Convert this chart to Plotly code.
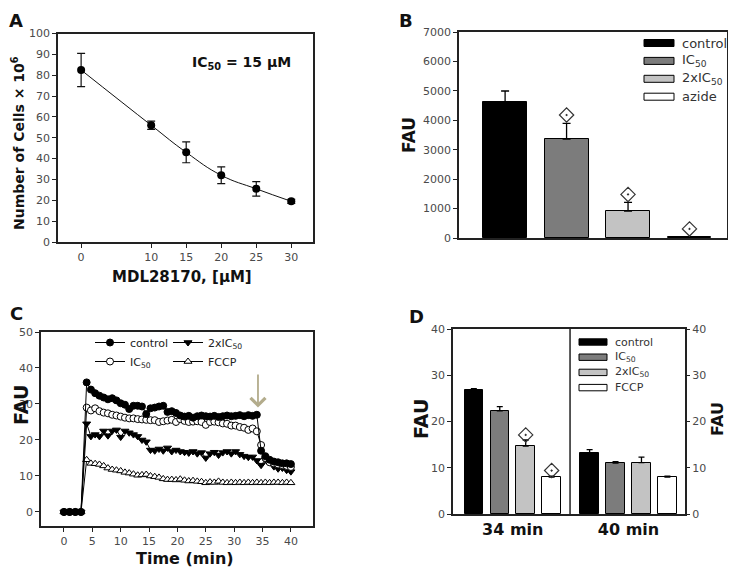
import plotly.graph_objects as go

W, H = 736, 576
OFF = 8  # page body margin
FW, FH = W - 2 * OFF, H - 2 * OFF
FONT = "DejaVu Sans"
TICKC = "#4a4a4a"
LINEC = "#222222"

# ---------------- Panel A data ----------------
conc = [0, 10, 15, 20, 25, 30]
cells = [82.5, 56, 43, 32, 25.5, 19.5]
cells_err = [8, 2, 5, 4, 3.5, 1]

# ---------------- Panel B data ----------------
b_names = ["control", "IC<sub>50</sub>", "2xIC<sub>50</sub>", "azide"]
b_values = [4630, 3360, 915, 40]
b_err = [365, 535, 295, 0]
b_sig = [None, 4180, 1480, 310]

# ---------------- Panel C data ----------------
time_min = [0, 1, 2, 3,
            4, 4.75, 5.5, 6.25, 7, 7.75, 8.5, 9.25, 10, 10.75, 11.5, 12.25, 13, 13.75,
            14.5, 15.25, 16, 16.75, 17.5, 18.25, 19, 19.75, 20.5, 21.25, 22, 22.75,
            23.5, 24.25, 25, 25.75, 26.5, 27.25, 28, 28.75, 29.5, 30.25, 31, 31.75,
            32.5, 33.25, 34, 34.75, 35.5, 36.25, 37, 37.75, 38.5, 39.25, 40]
c_control = [0, 0, 0, 0,
             36, 34, 33, 32.3, 31.8, 31.3, 31.6, 31, 30.2, 29.8, 28.6, 29.5, 29.5, 29.3,
             27.2, 28.8, 29, 29.3, 29.5, 27.8, 28, 27.5, 26.8, 26.5, 26.7, 26.2,
             26.6, 26.8, 26.6, 26.5, 26.7, 26.4, 26.6, 26.8, 26.6, 26.7, 26.9, 26.6,
             26.9, 26.7, 27, 17, 15.5, 14.5, 14, 13.8, 13.5, 13.5, 13.3]
c_ic50 = [0, 0, 0, 0,
          29, 28.2, 28.8, 28, 27.6, 27.4, 27, 26.8, 26.5, 26.2, 26, 26, 25.8, 25.7,
          25.6, 25.5, 25.5, 25, 25.2, 25.4, 25.6, 25, 25.8, 25.3, 25, 25.1,
          25.2, 25, 24.2, 25, 25.1, 24.9, 24.6, 24.5, 24, 24, 23.6, 23.4,
          22.8, 23.2, 22.4, 18.6, 15, 13.8, 13.5, 13.2, 13, 12.8, 12.5]
c_2xic50 = [0, 0, 0, 0,
            24.5, 21, 21.5, 21, 22.5, 21.2, 22.5, 22.8, 20.8, 22.5, 22, 21.5, 21, 20,
            19.5, 17.2, 17, 17.5, 17, 17.8, 16.8, 17.2, 16.8, 16.6, 16.4, 16.8,
            16.2, 16.5, 15, 16.2, 16.6, 15.8, 16.5, 16.8, 16.2, 16.8, 16, 15.5,
            15.2, 15.3, 14.3, 13, 14.5, 13.8, 12.6, 12, 12.2, 11.6, 11.2]
c_fccp = [0, 0, 0, 0,
          14.5, 13.5, 13.4, 13.2, 12.8, 12.2, 11.8, 11.6, 11.4, 11, 10.8, 10.5, 10.2, 10.3,
          10.4, 10, 9.8, 9.6, 9.2, 9, 9, 8.9, 9.1, 8.8, 8.6, 8.7,
          8.5, 8.4, 8.1, 8.3, 8.2, 8.5, 8.2, 8.1, 8.2, 8.1, 8.2, 8.1,
          8.2, 8.1, 8.2, 8.1, 8.2, 8.1, 8.2, 8.2, 8.1, 8.2, 8.1]
arrow_time = 34.2

# ---------------- Panel D data ----------------
d_groups = ["34 min", "40 min"]
d_names = ["control", "IC<sub>50</sub>", "2xIC<sub>50</sub>", "FCCP"]
d_values = [[26.8, 13.1], [22.3, 11.0], [14.7, 11.1], [8.0, 8.0]]
d_err = [[0.3, 0.8], [0.9, 0.3], [1.3, 1.2], [0.2, 0.2]]
d_sig = [[None, None], [None, None], [17.1, None], [9.4, None]]

bar_colors = ["#000000", "#7c7c7c", "#c3c3c3", "#ffffff"]


def px(x):
    return min(1.0, max(0.0, (x - OFF) / FW))


def py(y):
    return min(1.0, max(0.0, 1 - (y - OFF) / FH))


fig = go.Figure()

# ---- A ----
fig.add_trace(go.Scatter(
    x=conc, y=cells, mode="lines+markers", xaxis="x", yaxis="y",
    line=dict(color="#111", width=1, shape="spline", smoothing=1.3),
    marker=dict(color="black", size=8),
    error_y=dict(type="data", array=cells_err, color="#111", thickness=1.2, width=4),
    showlegend=False))

# ---- B ----
for i, (n, v, e, c) in enumerate(zip(b_names, b_values, b_err, bar_colors)):
    fig.add_trace(go.Bar(
        x=[i], y=[v], width=0.715, xaxis="x2", yaxis="y2",
        marker=dict(color=c, line=dict(color="black", width=1)),
        error_y=dict(type="data", symmetric=False, array=[e], arrayminus=[0],
                     color="black", thickness=1.3, width=4),
        showlegend=False))
sig_x = [i for i, s in enumerate(b_sig) if s is not None]
sig_y = [s for s in b_sig if s is not None]
fig.add_trace(go.Scatter(
    x=sig_x, y=sig_y, mode="markers", xaxis="x2", yaxis="y2",
    marker=dict(symbol="diamond-open-dot", size=11, color="#333", line=dict(width=1.2)),
    showlegend=False))

# ---- C ----
c_series = [
    ("FCCP", c_fccp, "triangle-up", "white", "legend2", 2),
    ("2xIC<sub>50</sub>", c_2xic50, "triangle-down", "black", "legend2", 1),
    ("IC<sub>50</sub>", c_ic50, "circle", "white", "legend", 2),
    ("control", c_control, "circle", "black", "legend", 1),
]
for name, ys, sym, fill, leg, rank in c_series:
    fig.add_trace(go.Scatter(
        x=time_min, y=ys, mode="lines+markers", name=name, xaxis="x3", yaxis="y3",
        line=dict(color="black", width=1),
        marker=dict(symbol=sym, size=7, color=fill, line=dict(color="black", width=1)),
        legend=leg, legendrank=rank, showlegend=True))

# ---- D ----
offsets = [-0.336, -0.112, 0.112, 0.336]
for i, (n, vals, errs, c) in enumerate(zip(d_names, d_values, d_err, bar_colors)):
    xs = [g + offsets[i] for g in range(len(d_groups))]
    fig.add_trace(go.Bar(
        x=xs, y=vals, width=0.16, xaxis="x4", yaxis="y4",
        marker=dict(color=c, line=dict(color="black", width=1)),
        error_y=dict(type="data", symmetric=False, array=errs, arrayminus=[0] * len(errs),
                     color="black", thickness=1.3, width=3),
        showlegend=False))
    sx = [xs[g] for g in range(len(d_groups)) if d_sig[i][g] is not None]
    sy = [d_sig[i][g] for g in range(len(d_groups)) if d_sig[i][g] is not None]
    if sx:
        fig.add_trace(go.Scatter(
            x=sx, y=sy, mode="markers", xaxis="x4", yaxis="y4",
            marker=dict(symbol="diamond-open-dot", size=11, color="#333", line=dict(width=1.2)),
            showlegend=False))
# invisible trace so the right axis is drawn
fig.add_trace(go.Scatter(x=[0], y=[0], xaxis="x4", yaxis="y5", mode="markers",
                         marker=dict(opacity=0), showlegend=False, hoverinfo="skip"))

tickfont = dict(family=FONT, size=11, color=TICKC)
common = dict(showgrid=False, zeroline=False, showline=True, linecolor=LINEC, linewidth=1.5,
              ticks="outside", ticklen=4, tickcolor=LINEC, tickfont=tickfont, automargin=False)

fig.update_layout(
    width=FW, height=FH, margin=dict(l=0, r=0, t=0, b=0),
    paper_bgcolor="white", plot_bgcolor="white",
    font=dict(family=FONT, color="#222"),
    xaxis=dict(common, domain=[px(58), px(313)], range=[-3.3, 33.1], anchor="y",
               tickvals=conc, mirror=True),
    yaxis=dict(common, domain=[py(242), py(33.5)], range=[0, 100], anchor="x",
               tickvals=list(range(0, 101, 10)), mirror=True),
    xaxis2=dict(common, domain=[px(459), px(727)], range=[-0.75, 3.61], anchor="y2",
                ticks="", showticklabels=False, mirror=True),
    yaxis2=dict(common, domain=[py(238), py(32)], range=[0, 7000], anchor="x2",
                tickvals=list(range(0, 7001, 1000)), mirror=True),
    xaxis3=dict(common, domain=[px(41), px(313)], range=[-4.05, 43.9], anchor="y3",
                tickvals=list(range(0, 41, 5)), mirror=True),
    yaxis3=dict(common, domain=[py(526), py(332)], range=[-3.9, 50], anchor="x3",
                tickvals=list(range(0, 51, 10)), mirror=True),
    xaxis4=dict(common, domain=[px(453), px(685)], range=[-0.516, 1.488], anchor="y4",
                ticks="", tickvals=list(range(len(d_groups))),
                ticktext=["<b>%s</b>" % g for g in d_groups],
                tickfont=dict(family=FONT, size=16, color="#111"), mirror=True),
    yaxis4=dict(common, domain=[py(514), py(329)], range=[0, 40], anchor="x4",
                tickvals=list(range(0, 41, 10)), mirror=True),
    yaxis5=dict(common, range=[0, 40], overlaying="y4", anchor="x4", side="right",
                tickvals=list(range(0, 41, 10)), showline=False),
    bargap=0,
    legend=dict(x=px(90), y=py(328), xanchor="left", yanchor="top",
                bgcolor="rgba(0,0,0,0)", font=dict(family=FONT, size=11, color="#222"),
                tracegroupgap=0, itemwidth=30),
    legend2=dict(x=px(168), y=py(328), xanchor="left", yanchor="top",
                 bgcolor="rgba(0,0,0,0)", font=dict(family=FONT, size=11, color="#222"),
                 tracegroupgap=0, itemwidth=30),
)

ann = []


def label(text, x, y, size, angle=0, color="#111", xanchor="center", yanchor="middle"):
    ann.append(dict(text=text, x=px(x), y=py(y), xref="paper", yref="paper",
                    showarrow=False, textangle=angle, xanchor=xanchor, yanchor=yanchor,
                    font=dict(family=FONT, size=size, color=color)))


# panel letters
label("<b>A</b>", 16, 8, 18, yanchor="top")
label("<b>B</b>", 406, 8, 18, yanchor="top")
label("<b>C</b>", 16, 314, 18)
label("<b>D</b>", 416, 316, 18)
# axis titles and notes
label("<b>Number of Cells × 10<sup>6</sup></b>", 18, 143, 14, angle=-90)
label("<b>MDL28170, [μM]</b>", 182, 277, 15)
label("<b>IC<sub>50</sub> = 15 μM</b>", 241, 63, 14)
label("<b>FAU</b>", 409, 135, 17, angle=-90)
label("<b>FAU</b>", 21, 405, 19, angle=-90)
label("<b>Time (min)</b>", 185, 558, 16)
label("<b>FAU</b>", 421, 419, 19, angle=-90)
label("<b>FAU</b>", 718, 419, 16, angle=-90)

shapes = []
# legend B
for i, (n, c) in enumerate(zip(b_names, bar_colors)):
    yc = 43 + 17.9 * i
    shapes.append(dict(type="rect", xref="paper", yref="paper", x0=px(644), x1=px(674),
                       y0=py(yc + 3.5), y1=py(yc - 3.5), fillcolor=c,
                       line=dict(color="black", width=1)))
    label(n, 680, yc, 13, color="#333", xanchor="left")
# legend D
for i, (n, c) in enumerate(zip(d_names, bar_colors)):
    yc = 342 + 15.2 * i
    shapes.append(dict(type="rect", xref="paper", yref="paper", x0=px(579), x1=px(607),
                       y0=py(yc + 3.2), y1=py(yc - 3.2), fillcolor=c,
                       line=dict(color="black", width=1)))
    label(n, 613, yc, 11, color="#333", xanchor="left")
# divider in D
shapes.append(dict(type="line", xref="x4", yref="y4 domain", x0=0.495, x1=0.495, y0=0, y1=1,
                   line=dict(color=LINEC, width=1.5)))

# arrow in C
ann.append(dict(x=arrow_time, y=29, ax=arrow_time, ay=38.6, xref="x3", yref="y3",
                axref="x3", ayref="y3", showarrow=True, arrowhead=4, arrowsize=1.6,
                arrowwidth=1.8, arrowcolor="#b3ac8c", text=""))

fig.update_layout(annotations=ann, shapes=shapes)
fig.write_html("out.html")
